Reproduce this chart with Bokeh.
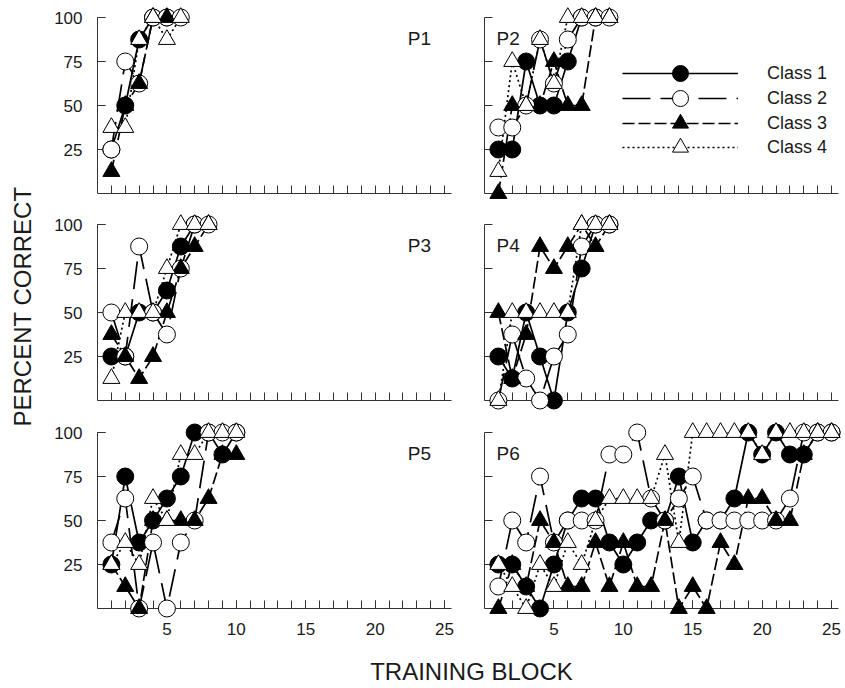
import math
from bokeh.plotting import figure
from bokeh.models import Range1d, FixedTicker, Label, Legend, LegendItem
from bokeh.layouts import column, row
from bokeh.embed import file_html
from bokeh.resources import INLINE

# ---------------- data (percent correct per training block, block 1 first) -----------
CLASS_NAMES = ["Class 1", "Class 2", "Class 3", "Class 4"]
PANEL_NAMES = ["P1", "P2", "P3", "P4", "P5", "P6"]

P1_CLASS1 = [25, 50, 87.5, 100, 100]
P1_CLASS2 = [25, 75, 62.5, 100, 100, 100]
P1_CLASS3 = [12.5, 50, 62.5, 100, 100]
P1_CLASS4 = [37.5, 37.5, 87.5, 100, 87.5, 100]

P2_CLASS1 = [25, 25, 75, 50, 50, 75, 100, 100]
P2_CLASS2 = [37.5, 37.5, 50, 87.5, 62.5, 87.5, 100, 100, 100]
P2_CLASS3 = [0, 50, 50, 50, 75, 50, 50, 100, 100]
P2_CLASS4 = [12.5, 75, 50, 87.5, 62.5, 100, 100, 100, 100]

P3_CLASS1 = [25, 25, 50, 50, 62.5, 87.5, 100]
P3_CLASS2 = [50, 25, 87.5, 50, 37.5, 75, 100, 100]
P3_CLASS3 = [37.5, 25, 12.5, 25, 50, 75, 87.5, 100]
P3_CLASS4 = [12.5, 50, 50, 50, 75, 100, 100, 100]

P4_CLASS1 = [25, 12.5, 50, 25, 0, 50, 75, 100, 100]
P4_CLASS2 = [0, 37.5, 12.5, 0, 25, 37.5, 87.5, 100, 100]
P4_CLASS3 = [50, 12.5, 37.5, 87.5, 75, 87.5, 100, 87.5, 100]
P4_CLASS4 = [0, 50, 50, 50, 50, 50, 100, 100, 100]

P5_CLASS1 = [25, 75, 37.5, 50, 62.5, 75, 100, 100, 87.5, 100]
P5_CLASS2 = [37.5, 62.5, 0, 37.5, 0, 37.5, 50, 100, 100, 100]
P5_CLASS3 = [25, 12.5, 0, 50, 50, 50, 50, 62.5, 87.5, 87.5]
P5_CLASS4 = [25, 37.5, 25, 62.5, 50, 87.5, 87.5, 100, 100, 100]

P6_CLASS1 = [25, 25, 12.5, 0, 25, 50, 62.5, 62.5, 37.5, 25, 37.5, 50, 50,
             75, 37.5, 50, 50, 62.5, 100, 87.5, 100, 87.5, 87.5, 100, 100]
P6_CLASS2 = [12.5, 50, 37.5, 75, 37.5, 50, 50, 50, 87.5, 87.5, 100, 62.5, 50,
             62.5, 75, 50, 50, 50, 50, 50, 50, 62.5, 100, 100, 100]
P6_CLASS3 = [0, 25, 12.5, 50, 37.5, 12.5, 12.5, 37.5, 12.5, 37.5, 12.5, 12.5, 50,
             0, 12.5, 0, 37.5, 25, 62.5, 62.5, 50, 50, 87.5, 100, 100]
P6_CLASS4 = [25, 12.5, 0, 25, 12.5, 37.5, 25, 50, 62.5, 62.5, 62.5, 62.5, 87.5,
             37.5, 100, 100, 100, 100, 100, 87.5, 100, 100, 100, 100, 100]

X_TICK_LABELS = [5, 10, 15, 20, 25]
X_MINOR_TICKS = list(range(1, 26))
Y_TICK_LABELS = [25, 50, 75, 100]

PANEL_DATA = [
    [P1_CLASS1, P1_CLASS2, P1_CLASS3, P1_CLASS4],
    [P2_CLASS1, P2_CLASS2, P2_CLASS3, P2_CLASS4],
    [P3_CLASS1, P3_CLASS2, P3_CLASS3, P3_CLASS4],
    [P4_CLASS1, P4_CLASS2, P4_CLASS3, P4_CLASS4],
    [P5_CLASS1, P5_CLASS2, P5_CLASS3, P5_CLASS4],
    [P6_CLASS1, P6_CLASS2, P6_CLASS3, P6_CLASS4],
]

# ---------------- styles ----------------
FONT = "Liberation Sans"
INK = "#1a1a1a"
AXIS_COLOR = "#333333"
DASHES = ["solid", "28 10", "12 4", "2 3"]
MARKERS = ["circle", "circle", "triangle", "triangle"]
FILLS = ["black", "white", "black", "white"]

FRAME_W, FRAME_H = 354, 176
YLABEL_W = 42
TOPS = [17, 16, 16]
BOTTOMS = [15, 16, 40]
LEGEND_BOTTOMS = [100, 75, 50, 26]


def make_panel(idx):
    col = idx % 2
    rw = idx // 2
    left = col == 0
    bottom = rw == 2
    p = figure(frame_width=FRAME_W, frame_height=FRAME_H,
               x_range=Range1d(0, 25.5), y_range=Range1d(0, 100),
               output_backend="svg", toolbar_location=None,
               min_border_left=(97 - YLABEL_W) if left else 28,
               min_border_right=5 if left else 4,
               min_border_top=TOPS[rw], min_border_bottom=BOTTOMS[rw])
    p.outline_line_color = None
    p.xgrid.visible = False
    p.ygrid.visible = False
    p.background_fill_color = "white"
    p.border_fill_color = "white"

    xa = p.xaxis[0]
    xa.ticker = FixedTicker(ticks=X_TICK_LABELS if bottom else [], minor_ticks=X_MINOR_TICKS)
    ya = p.yaxis[0]
    ya.ticker = FixedTicker(ticks=Y_TICK_LABELS if left else [], minor_ticks=Y_TICK_LABELS)
    for ax in (xa, ya):
        ax.axis_line_color = AXIS_COLOR
        ax.axis_line_width = 1
        ax.major_tick_line_color = AXIS_COLOR
        ax.minor_tick_line_color = AXIS_COLOR
        ax.major_tick_in = 8
        ax.major_tick_out = 0
        ax.minor_tick_in = 8
        ax.minor_tick_out = 0
        ax.major_label_text_font = FONT
        ax.major_label_text_font_size = "17px"
        ax.major_label_text_color = INK
    xa.major_label_standoff = 14
    ya.major_label_standoff = 15

    lines, marks = [], []
    for k, vals in enumerate(PANEL_DATA[idx]):
        xs = list(range(1, len(vals) + 1))
        lines.append(p.line(xs, vals, line_color="black", line_width=1.7,
                            line_dash=DASHES[k]))
    for k, vals in enumerate(PANEL_DATA[idx]):
        xs = list(range(1, len(vals) + 1))
        marks.append(p.scatter(xs, vals, marker=MARKERS[k], size=17,
                               fill_color=FILLS[k], line_color="black",
                               line_width=1, level="overlay"))

    lx = 22.35 if left else 0.87
    p.add_layout(Label(x=lx, y=88, text=PANEL_NAMES[idx], text_font=FONT,
                       text_font_size="19px", text_color=INK,
                       text_baseline="alphabetic"))

    if idx == 1:
        for k in range(4):
            legend = Legend(items=[LegendItem(label=CLASS_NAMES[k],
                                              renderers=[lines[k], marks[k]])],
                            location=(138, LEGEND_BOTTOMS[k]), glyph_width=116,
                            glyph_height=40, padding=0, margin=0,
                            label_standoff=29, background_fill_alpha=0,
                            border_line_color=None, label_text_font=FONT,
                            label_text_font_size="18px", label_text_color=INK,
                            label_text_baseline="middle")
            p.add_layout(legend)
    return p


panels = [make_panel(i) for i in range(6)]

grid_h = sum(TOPS) + sum(BOTTOMS) + 3 * FRAME_H

ylabel_fig = figure(width=YLABEL_W, height=grid_h, output_backend="svg",
                    toolbar_location=None, x_range=Range1d(0, 1), y_range=Range1d(0, 1),
                    x_axis_location=None, y_axis_location=None, min_border=0)
ylabel_fig.outline_line_color = None
ylabel_fig.xgrid.visible = False
ylabel_fig.ygrid.visible = False
ylabel_fig.add_layout(Label(x=22, y=grid_h - 306, x_units="screen", y_units="screen",
                            text="PERCENT CORRECT", angle=math.pi / 2,
                            text_align="center", text_baseline="middle",
                            text_font=FONT, text_font_size="24px", text_color=INK))

TITLE_H = 39
title_fig = figure(width=842, height=TITLE_H, output_backend="svg", toolbar_location=None,
                   x_range=Range1d(0, 1), y_range=Range1d(0, 1),
                   x_axis_location=None, y_axis_location=None, min_border=0)
title_fig.outline_line_color = None
title_fig.xgrid.visible = False
title_fig.ygrid.visible = False
title_fig.add_layout(Label(x=471, y=TITLE_H - (671 - grid_h), x_units="screen", y_units="screen",
                           text="TRAINING BLOCK", text_align="center",
                           text_baseline="middle", text_font=FONT,
                           text_font_size="24px", text_color=INK))

grid = column(row(panels[0], panels[1]), row(panels[2], panels[3]),
              row(panels[4], panels[5]))
layout = column(row(ylabel_fig, grid), title_fig)

open("out.html", "w").write(file_html(layout, INLINE))
